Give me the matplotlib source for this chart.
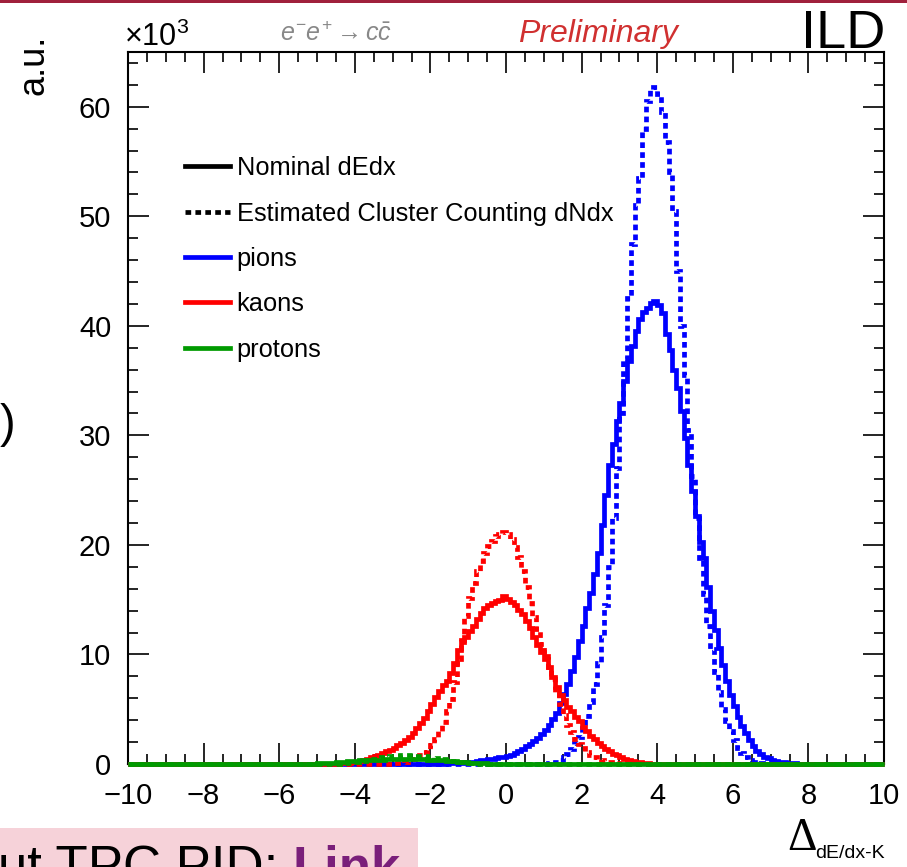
import numpy as np
import matplotlib
matplotlib.use("Agg")
import matplotlib.pyplot as plt
from matplotlib.lines import Line2D
from matplotlib.patches import Rectangle

plt.rcParams['font.family'] = ['Liberation Sans', 'DejaVu Sans']
plt.rcParams['mathtext.fontset'] = 'custom'
plt.rcParams['mathtext.rm'] = 'Liberation Sans'
plt.rcParams['mathtext.it'] = 'Liberation Sans:italic'

# histogram binning: 200 bins of 0.1 between -10 and 10
x_lo, x_hi, n_bins = -10.0, 10.0, 200

# values in units of 10^3, given from the first non-empty bin (start = lower bin edge)
pion_dedx_start = -2.0
pion_dedx = [0.02, 0.03, 0.03, 0.04, 0.05, 0.06, 0.07, 0.09, 0.11, 0.14,
             0.17, 0.21, 0.26, 0.32, 0.38, 0.44, 0.50, 0.55, 0.60, 0.65,
             0.72, 0.85, 1.0, 1.18, 1.38, 1.6, 1.85, 2.1, 2.4, 2.75,
             3.1, 3.55, 4.1, 4.7, 5.6, 6.4, 7.3, 8.5, 9.8, 11.2,
             12.6, 14.2, 15.6, 17.3, 19.3, 21.8, 24.6, 27.3, 29.2, 31.3,
             33.0, 35.0, 36.8, 38.2, 39.5, 40.6, 41.3, 41.6, 42.1, 42.3,
             41.9, 41.2, 39.3, 37.8, 36.0, 34.3, 32.2, 29.8, 27.3, 24.9,
             22.6, 20.3, 18.8, 16.2, 14.0, 12.2, 10.6, 9.0, 7.6, 6.3,
             5.3, 4.3, 3.5, 2.8, 2.15, 1.6, 1.2, 0.9, 0.68, 0.52,
             0.4, 0.3, 0.22, 0.16, 0.12, 0.09, 0.06, 0.04, 0.03, 0.02]

pion_dndx_start = 1.0
pion_dndx = [0.02, 0.05, 0.1, 0.2, 0.35, 0.6, 0.95, 1.4, 1.9, 2.5,
             3.3, 4.4, 5.7, 7.3, 9.2, 11.6, 14.5, 18.0, 22.5, 27.0,
             32.0, 37.0, 42.5, 47.5, 51.0, 53.5, 58.0, 60.5, 61.5, 61.8,
             61.2, 59.5, 56.8, 54.0, 50.5, 45.0, 40.0, 35.5, 30.5, 26.3,
             22.5, 18.8, 15.5, 12.6, 10.5, 8.4, 6.6, 5.0, 3.9, 3.0,
             2.2, 1.5, 1.0, 0.6, 0.35, 0.2, 0.1, 0.05, 0.02]

kaon_dedx_start = -4.5
kaon_dedx = [0.03, 0.05, 0.08, 0.12, 0.17, 0.22, 0.3, 0.38, 0.48, 0.6,
             0.72, 0.85, 1.0, 1.15, 1.3, 1.5, 1.7, 1.9, 2.2, 2.5,
             2.85, 3.25, 3.7, 4.2, 4.8, 5.5, 6.1, 6.7, 7.2, 7.6,
             8.3, 9.2, 10.4, 11.1, 11.6, 12.1, 12.6, 13.2, 13.8, 14.2,
             14.5, 14.7, 14.9, 15.0, 15.3, 15.1, 14.8, 14.5, 14.1, 13.7,
             13.1, 12.4, 11.6, 10.9, 10.2, 9.6, 8.9, 7.9, 7.0, 6.3,
             5.8, 5.2, 4.8, 4.3, 3.9, 3.4, 3.0, 2.6, 2.25, 1.95,
             1.65, 1.38, 1.15, 0.95, 0.78, 0.62, 0.48, 0.37, 0.28, 0.2,
             0.14, 0.1, 0.07, 0.04, 0.02]

kaon_dndx_start = -3.0
kaon_dndx = [0.05, 0.08, 0.12, 0.18, 0.28, 0.42, 0.6, 0.8, 1.05, 1.35,
             1.75, 2.3, 3.0, 3.8, 4.8, 5.9, 7.5, 9.6, 11.3, 13.5,
             15.2, 16.5, 17.6, 18.5, 19.3, 19.9, 20.4, 20.8, 21.0, 21.2,
             21.0, 20.5, 19.8, 18.9, 17.6, 16.2, 14.7, 13.4, 12.3, 11.0,
             9.9, 8.9, 7.8, 6.6, 5.5, 4.5, 3.6, 2.9, 2.3, 1.85,
             1.45, 1.1, 0.85, 0.65, 0.48, 0.35, 0.25, 0.17, 0.1, 0.05]

proton_dedx_start = -5.0
proton_dedx = [0.05, 0.07, 0.09, 0.11, 0.13, 0.16, 0.19, 0.22, 0.25, 0.28,
               0.3, 0.32, 0.34, 0.36, 0.37, 0.39, 0.4, 0.41, 0.42, 0.43,
               0.44, 0.44, 0.45, 0.45, 0.45, 0.44, 0.44, 0.43, 0.42, 0.41,
               0.39, 0.37, 0.35, 0.33, 0.31, 0.28, 0.25, 0.22, 0.19, 0.16,
               0.13, 0.11, 0.09, 0.07, 0.05, 0.04, 0.03, 0.02, 0.02, 0.01]

proton_dndx_start = -4.5
proton_dndx = [0.03, 0.05, 0.08, 0.11, 0.15, 0.2, 0.25, 0.3, 0.36, 0.42,
               0.48, 0.54, 0.6, 0.65, 0.7, 0.74, 0.77, 0.79, 0.8, 0.8,
               0.79, 0.77, 0.74, 0.7, 0.65, 0.6, 0.54, 0.48, 0.42, 0.36,
               0.3, 0.25, 0.2, 0.15, 0.11, 0.08, 0.05, 0.03, 0.02, 0.01]

legend_labels = ["Nominal dEdx", "Estimated Cluster Counting dNdx",
                 "pions", "kaons", "protons"]

x_ticks = [-10, -8, -6, -4, -2, 0, 2, 4, 6, 8, 10]
y_ticks = [0, 10, 20, 30, 40, 50, 60]

c_pion, c_kaon, c_proton = '#0000ff', '#ff0000', '#009a00'

edges = np.linspace(x_lo, x_hi, n_bins + 1)
bw = (x_hi - x_lo) / n_bins


def fill_hist(start, vals):
    h = np.zeros(n_bins)
    i0 = int(round((start - x_lo) / bw))
    h[i0:i0 + len(vals)] = vals
    return h


fig = plt.figure(figsize=(9.07, 8.67), dpi=100)
ax = fig.add_axes([128 / 907, 1 - 764 / 867, (884 - 128) / 907, (764 - 52) / 867])

lw = 3.4
dots = (0, (1.2, 0.9))
series = [
    (pion_dedx_start, pion_dedx, c_pion, '-'),
    (pion_dndx_start, pion_dndx, c_pion, dots),
    (kaon_dedx_start, kaon_dedx, c_kaon, '-'),
    (kaon_dndx_start, kaon_dndx, c_kaon, dots),
    (proton_dedx_start, proton_dedx, c_proton, '-'),
    (proton_dndx_start, proton_dndx, c_proton, dots),
]
for start, vals, col, ls in series:
    ax.stairs(fill_hist(start, vals), edges, color=col, lw=lw, linestyle=ls,
              clip_on=False, zorder=3)

ax.set_xlim(x_lo, x_hi)
ax.set_ylim(0, 65)
ax.set_xticks(x_ticks)
ax.set_yticks(y_ticks)
ax.set_xticks(np.arange(-10, 10.01, 0.5), minor=True)
ax.set_yticks(np.arange(0, 65.01, 2), minor=True)
ax.tick_params(which='both', direction='in', top=True, right=True,
               width=1.2, labelsize=21)
ax.tick_params(which='major', length=15)
ax.tick_params(which='minor', length=7.5)
ax.tick_params(axis='y', pad=12)
ax.tick_params(axis='x', pad=13)
for s in ax.spines.values():
    s.set_linewidth(1.5)

# legend
handles = [Line2D([], [], color='black', lw=lw),
           Line2D([], [], color='black', lw=lw, linestyle=dots),
           Line2D([], [], color=c_pion, lw=lw),
           Line2D([], [], color=c_kaon, lw=lw),
           Line2D([], [], color=c_proton, lw=lw)]
ax.legend(handles, legend_labels, loc='upper left', bbox_to_anchor=(0.062, 0.868),
          frameon=False, fontsize=18.3, handlelength=1.75, handletextpad=0.28,
          labelspacing=0.84, borderaxespad=0)

# header texts
fig.add_artist(Rectangle((0, 1 - 3 / 867), 1, 3 / 867, transform=fig.transFigure,
                         color='#a0203c', lw=0))
fig.text(124 / 907, 1 - 46 / 867, r'$\times$10$^{3}$', fontsize=22, ha='left', va='baseline')
fig.text(280 / 907, 1 - 41 / 867, r'$e^{-}e^{+} \rightarrow c\bar{c}$', fontsize=18,
         color='#888888', ha='left', va='baseline')
fig.text(598 / 907, 1 - 42 / 867, 'Preliminary', fontsize=23, style='italic',
         color='#d03030', ha='center', va='baseline')
fig.text(885 / 907, 1 - 48 / 867, 'ILD', fontsize=39, ha='right', va='baseline')
fig.text(34 / 907, 1 - 65 / 867, 'a.u.', fontsize=26, rotation=90, ha='center', va='center')
fig.text(0, 1 - 425 / 867, ')', fontsize=34, ha='left', va='center')

# x axis title
rend = fig.canvas.get_renderer()
t_sub = fig.text(885 / 907, 1 - 858 / 867, 'dE/dx-K', fontsize=14, ha='right', va='baseline')
bb = t_sub.get_window_extent(rend)
fig.text(bb.x0 / fig.bbox.width + 1 / 907, 1 - 850 / 867, '\u0394', fontsize=33,
         family='Liberation Serif', ha='right', va='baseline')

# pink box at the bottom left
fig.add_artist(Rectangle((0, 0), 418 / 907, (867 - 828) / 867, transform=fig.transFigure,
                         color='#f6d2d9', lw=0))
t1 = fig.text(-2 / 907, 1 - 884 / 867, 'ut TPC PID: ', fontsize=38, ha='left', va='baseline')
bb1 = t1.get_window_extent(rend)
fig.text(bb1.x1 / fig.bbox.width, 1 - 884 / 867, 'Link', fontsize=38, weight='bold',
         color='#7a1f7a', ha='left', va='baseline')

fig.savefig('out.png', dpi=100)
